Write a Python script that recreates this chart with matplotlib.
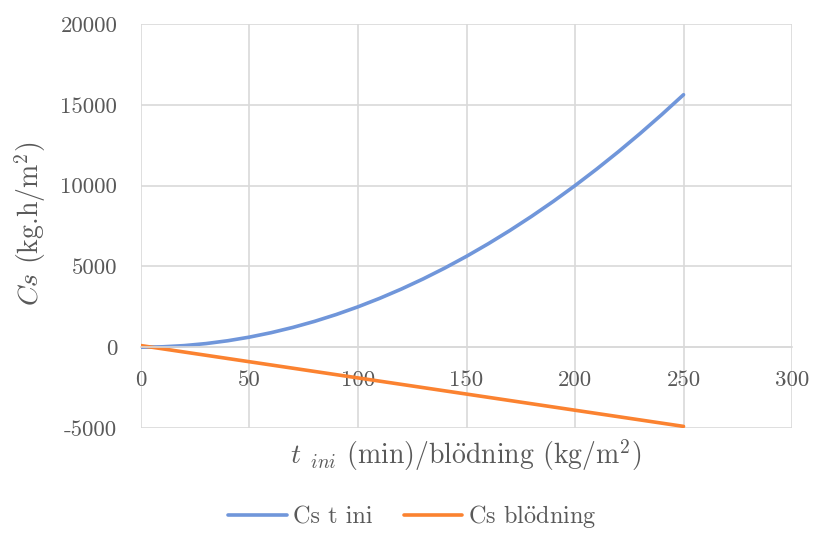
import matplotlib
matplotlib.use("Agg")
import matplotlib.pyplot as plt

# -----------------------------
# Data
# -----------------------------

t = [0, 10, 20, 30, 40, 50, 60, 70, 80, 90, 100, 110, 120, 130, 140,
     150, 160, 170, 180, 190, 200, 210, 220, 230, 240, 250]

cs_t_ini = [0, 25, 100, 225, 400, 625, 900, 1225, 1600, 2025, 2500, 3025,
            3600, 4225, 4900, 5625, 6400, 7225, 8100, 9025, 10000, 11025,
            12100, 13225, 14400, 15625]

cs_blodning = [100, -100, -300, -500, -700, -900, -1100, -1300, -1500,
               -1700, -1900, -2100, -2300, -2500, -2700, -2900, -3100,
               -3300, -3500, -3700, -3900, -4100, -4300, -4500, -4700, -4900]

x_ticks = [0, 50, 100, 150, 200, 250, 300]
y_ticks = [-5000, 0, 5000, 10000, 15000, 20000]

# -----------------------------
# Style
# -----------------------------

plt.rcParams["font.family"] = ["cmr10", "DejaVu Serif"]
plt.rcParams["mathtext.fontset"] = "cm"
plt.rcParams["axes.unicode_minus"] = False

text_color = "#595959"
grid_color = "#d9d9d9"
blue = "#7096da"
orange = "#fb8230"

fig = plt.figure(figsize=(8.14, 5.34), dpi=100)
ax = fig.add_axes([0.1732, 0.1985, 0.7998, 0.7565])

ax.plot(t, cs_t_ini, color=blue, lw=2.6, label="Cs t ini",
        solid_capstyle="round")
ax.plot(t, cs_blodning, color=orange, lw=2.6,
        label=r"Cs bl$\ddot{\mathrm{o}}$dning", solid_capstyle="round")

ax.set_xlim(0, 300)
ax.set_ylim(-5000, 20000)
ax.set_xticks(x_ticks)
ax.set_xticklabels([str(v) for v in x_ticks])
ax.set_yticks(y_ticks)
ax.set_yticklabels([str(v) for v in y_ticks])

ax.grid(True, color=grid_color, lw=1.2)
ax.set_axisbelow(True)

for side in ["top", "right", "left"]:
    ax.spines[side].set_visible(False)
ax.spines["bottom"].set_position(("data", 0))
ax.spines["bottom"].set_color(grid_color)
ax.spines["bottom"].set_linewidth(1.2)

ax.tick_params(axis="both", length=0, labelsize=16.5, labelcolor=text_color)
ax.tick_params(axis="x", pad=17)
ax.tick_params(axis="y", pad=17)

# -----------------------------
# Labels and legend
# -----------------------------

fig.text(0.037, 0.58, r"$Cs$ (kg.h/m$^{2}$)", rotation=90, ha="center",
         va="center", fontsize=20, color=text_color)
fig.text(0.572, 0.148,
         r"$t$ $_{ini}$ (min)/bl$\ddot{\mathrm{o}}$dning (kg/m$^{2}$)",
         ha="center", va="center", fontsize=20, color=text_color)

leg = fig.legend(loc="center", bbox_to_anchor=(0.507, 0.032), ncol=2,
                 frameon=False, fontsize=17.5, handlelength=2.4,
                 columnspacing=1.3, handletextpad=0.25)
for txt in leg.get_texts():
    txt.set_color(text_color)

fig.savefig("out.png", dpi=100)
plt.close(fig)
